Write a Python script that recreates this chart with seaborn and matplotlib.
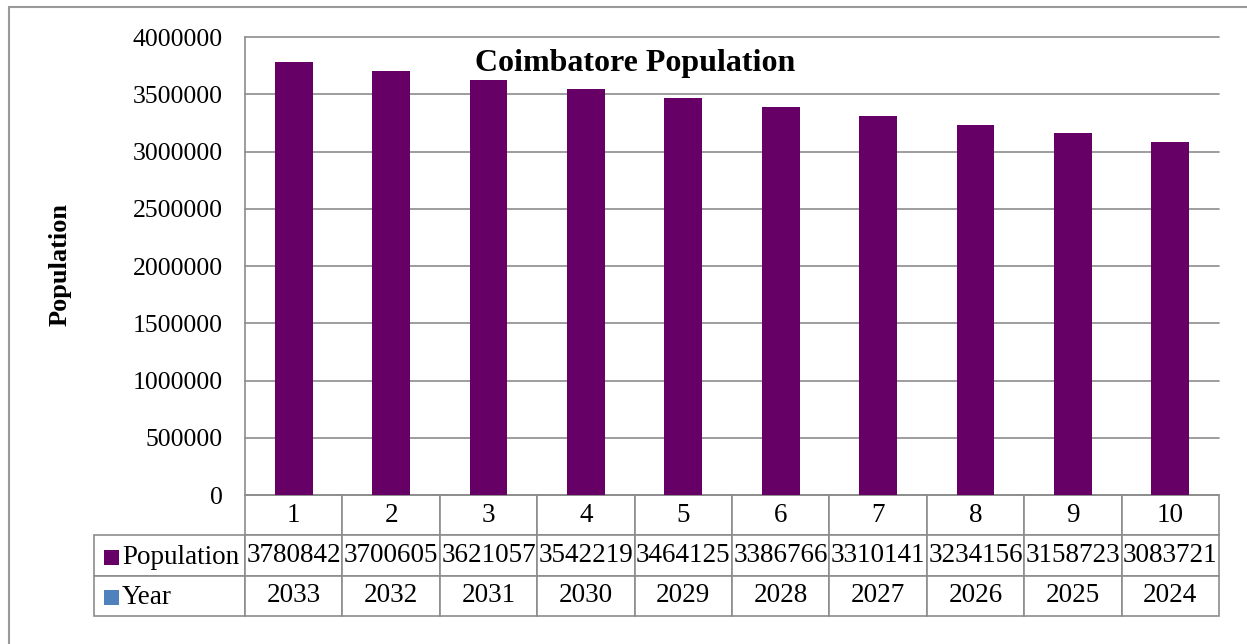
import numpy as np
import pandas as pd
import matplotlib
matplotlib.use("Agg")
import matplotlib.pyplot as plt
import seaborn as sns
from matplotlib.patches import Rectangle

# ---- data ----
categories = [1, 2, 3, 4, 5, 6, 7, 8, 9, 10]
population = [3780842, 3700605, 3621057, 3542219, 3464125,
              3386766, 3310141, 3234156, 3158723, 3083721]
years = [2033, 2032, 2031, 2030, 2029, 2028, 2027, 2026, 2025, 2024]
y_ticks = [0, 500000, 1000000, 1500000, 2000000, 2500000,
           3000000, 3500000, 4000000]
series_names = ["Population", "Year"]
series_colors = ["#660066", "#4F81BD"]
title = "Coimbatore Population"
y_label = "Population"

sns.set_theme(style="white")
plt.rcParams['font.family'] = ['Liberation Serif', 'DejaVu Serif']

W, H = 1247, 644
fig = plt.figure(figsize=(W / 100, H / 100), dpi=100)
fig.patch.set_facecolor("white")

ax_l, ax_r, ax_t, ax_b = 245, 1219, 37, 495
AW, AH = ax_r - ax_l, ax_b - ax_t
ax = fig.add_axes([ax_l / W, 1 - ax_b / H, AW / W, AH / H])

df = pd.DataFrame({"Index": categories, "Population": population})
sns.barplot(data=df, x="Index", y="Population", order=categories,
            color=series_colors[0], saturation=1, width=0.39,
            edgecolor="none", ax=ax)

grid_c = "#8c8c8c"
ax.set_ylim(0, y_ticks[-1])
ax.set_xlim(-0.5, len(categories) - 0.5)
ax.set_yticks(y_ticks)
ax.set_yticklabels([str(v) for v in y_ticks], fontsize=18.5, color="black")
ax.tick_params(axis="y", length=0, pad=16)
ax.set_xticks([])
ax.set_xlabel("")
ax.yaxis.grid(True, color=grid_c, linewidth=1.2)
for gl in ax.get_ygridlines():
    gl.set_clip_on(False)
ax.set_axisbelow(True)
for s in ["top", "right", "bottom"]:
    ax.spines[s].set_visible(False)
ax.spines["left"].set_color(grid_c)
ax.spines["left"].set_linewidth(1.2)

# y label
ax.set_ylabel(y_label, fontsize=19, fontweight="bold", color="black")
ax.yaxis.set_label_coords((72 - ax_l) / AW, (ax_b - 264) / AH)

# title
ax.text((635 - ax_l) / AW, (ax_b - 63) / AH, title,
        transform=ax.transAxes, ha="center", va="center",
        fontsize=23, fontweight="bold", color="black")

# ---- data table ----
tab_left, tab_bottom = 94, 616
th = (tab_bottom - ax_b) / AH
n = len(categories)
tbl = ax.table(cellText=[[str(v) for v in population], [str(v) for v in years]],
               colLabels=[str(c) for c in categories],
               colWidths=[1.0 / n] * n,
               cellLoc="center", colLoc="center",
               bbox=[0, -th, 1, th])
tbl.auto_set_font_size(False)
lab_w = (ax_l - tab_left) / AW
for r in (1, 2):
    tbl.add_cell(r, -1, width=lab_w, height=tbl[r, 0].get_height(),
                 text="", loc="left")
for (r, c), cell in tbl.get_celld().items():
    cell.set_edgecolor(grid_c)
    cell.set_linewidth(1.2)
    cell.get_text().set_fontsize(19.5)
    cell.get_text().set_color("black")

# row labels with legend keys
row_cy = [557, 597]
for name, colr, cy in zip(series_names, series_colors, row_cy):
    fig.add_artist(Rectangle((104 / W, 1 - (cy + 7.5) / H), 15 / W, 15 / H,
                             transform=fig.transFigure, facecolor=colr,
                             edgecolor="none"))
    fig.text(122 / W, 1 - cy / H, name, ha="left", va="center",
             fontsize=19.5, color="black")

# outer chart border (clipped at right and bottom like the reference)
fig.add_artist(Rectangle((9 / W, -0.1), 1.2, (1 - 7 / H) + 0.1,
                         transform=fig.transFigure, fill=False,
                         edgecolor="#9a9a9a", linewidth=1.5))

fig.savefig("out.png", dpi=100)
